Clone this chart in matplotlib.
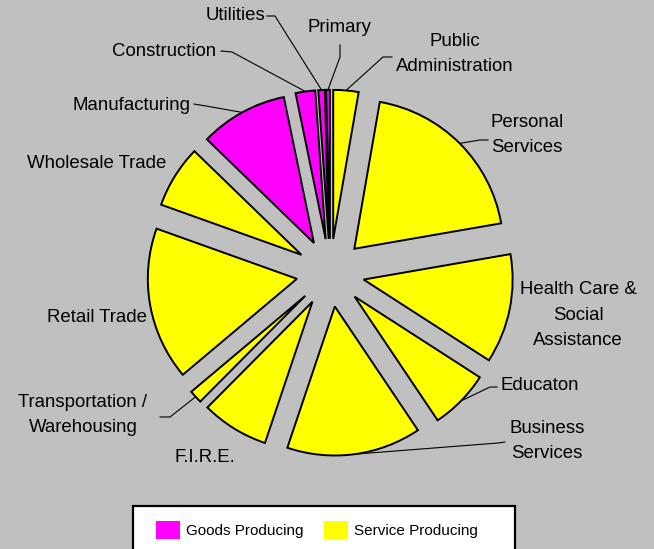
import matplotlib
matplotlib.use("Agg")
import matplotlib.pyplot as plt
from matplotlib import font_manager
from matplotlib.patches import Patch, Rectangle
import numpy as np

# ==============================
# Datos (orden horario desde las 12)
# ==============================
sectors = ["Public\nAdministration", "Personal\nServices",
           "Health Care &\nSocial\nAssistance", "Educaton",
           "Business\nServices", "F.I.R.E.", "Transportation /\nWarehousing",
           "Retail Trade", "Wholesale Trade", "Manufacturing",
           "Construction", "Utilities", "Primary"]
shares = [2.7, 19.3, 11.7, 6.4, 14.4, 7.2, 1.4, 16.4, 6.7, 9.4, 2.1, 0.7, 0.4]
groups = ["Service"] * 9 + ["Goods"] * 4
group_names = ["Goods Producing", "Service Producing"]

# ==============================
# Estilo
# ==============================
BG = "#C0C0C0"
colors = {"Goods": "#FF00FF", "Service": "#FFFF00"}
plt.rcParams["font.family"] = ["Liberation Sans", "DejaVu Sans"]

installed = {f.name for f in font_manager.fontManager.ttflist}
if "Liberation Sans Narrow" in installed:
    leg_font = {"family": "Liberation Sans Narrow", "size": 13.5}
else:
    leg_font = {"family": "Liberation Sans", "size": 11}

W, H = 654, 549
CX, CY, R = 330.3, 272.8, 149   # centro y radio en píxeles


def px(x, y):
    return (x - CX) / R, (CY - y) / R


fig = plt.figure(figsize=(W / 100, H / 100), dpi=100, facecolor=BG)
ax = fig.add_axes([0, 0, 1, 1])
ax.set_facecolor(BG)
ax.axis("off")

wedges, _ = ax.pie(shares, colors=[colors[g] for g in groups],
                   explode=[34 / R] * len(shares), startangle=90,
                   counterclock=False, radius=1,
                   wedgeprops=dict(edgecolor="black", linewidth=1.4))
ax.set_xlim(-CX / R, (W - CX) / R)
ax.set_ylim((CY - H) / R, CY / R)
ax.set_aspect("auto")

# posiciones de etiquetas (px) y tramos de la línea guía
label_pos = {
    0: ((455, 54), [(383, 57), (392, 57)]),
    1: ((527, 135), [(480, 140), (488, 140)]),
    2: ((578, 315), None),
    3: ((540, 385), [(490, 387), (497, 387)]),
    4: ((547, 441), [(498, 443), (505, 442)]),
    5: ((205, 458), None),
    6: ((83, 415), [(170, 417), (160, 417)]),
    7: ((97, 318), None),
    8: ((97, 163), None),
    9: ((131, 105), [(206, 106), (194, 104)]),
    10: ((164, 51), [(232, 52), (221, 51)]),
    11: ((236, 15), [(275, 16), (267, 16)]),
    12: ((340, 27), [(340, 57), (340, 45)]),
}

for i, w in enumerate(wedges):
    (tx, ty), guide = label_pos[i]
    ax.text(*px(tx, ty), sectors[i], ha="center", va="center",
            fontsize=13.4, linespacing=1.65, color="black")
    if guide:
        mid = np.deg2rad((w.theta1 + w.theta2) / 2)
        ax0 = w.center[0] + w.r * np.cos(mid)
        ay0 = w.center[1] + w.r * np.sin(mid)
        pts = [(ax0, ay0)] + [px(*p) for p in guide]
        ax.plot([p[0] for p in pts], [p[1] for p in pts],
                color="black", lw=0.8)

# ==============================
# Leyenda
# ==============================
box = Rectangle((133 / W, (H - 560) / H), (515 - 133) / W, (560 - 506) / H,
                transform=fig.transFigure, facecolor="white",
                edgecolor="black", linewidth=1.6, zorder=1)
fig.add_artist(box)
handles = [Patch(facecolor=colors["Goods"], edgecolor="none"),
           Patch(facecolor=colors["Service"], edgecolor="none")]
fs_px = leg_font["size"] * 100 / 72
fig.legend(handles, group_names, loc="center left",
           bbox_to_anchor=(156 / W, (H - 530) / H), ncol=2, frameon=False,
           prop=leg_font, borderpad=0, borderaxespad=0,
           handlelength=24 / fs_px, handleheight=22 / fs_px,
           handletextpad=6 / fs_px, columnspacing=20 / fs_px)

fig.savefig("out.png", dpi=100, facecolor=BG)
